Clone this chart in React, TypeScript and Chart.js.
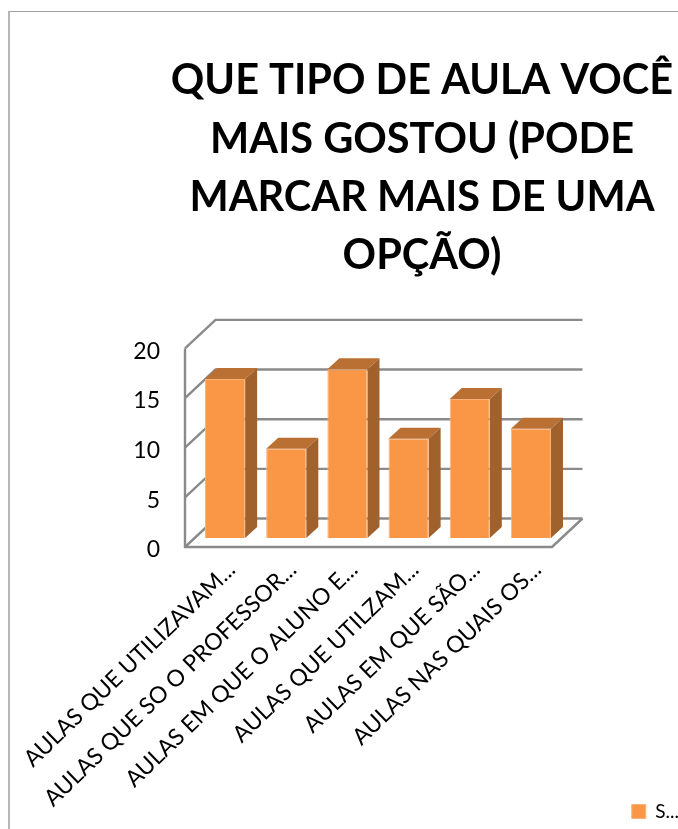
import React, { useEffect, useRef } from "react";
import { Chart, registerables } from "chart.js";

Chart.register(...registerables);

const categories = [
  "AULAS QUE UTILIZAVAM...",
  "AULAS QUE SO O PROFESSOR...",
  "AULAS EM QUE O ALUNO E...",
  "AULAS QUE UTILZAM...",
  "AULAS EM QUE SÃO...",
  "AULAS NAS QUAIS OS...",
];
const seriesValues = [16, 9, 17, 10, 14, 11];
const seriesName = "S...";
const titleLines = ["QUE TIPO DE AULA VOCÊ", "MAIS GOSTOU (PODE", "MARCAR MAIS DE UMA", "OPÇÃO)"];

const FONT = "Lato, Carlito, sans-serif";
const GRID = "#8a8a8a";
const FRONT = "#F99746";
const EDGE = "#FBB27A";
const TOP = "#BA6F33";
const SIDE = "#A0612C";
const WALL_X = 30.5;
const WALL_Y = -28.5;
const BAR_X = 9.5;
const BAR_Y = -9;
const DEPTH_X = 12;
const DEPTH_Y = -11;

const poly = (ctx: CanvasRenderingContext2D, pts: number[][], fill?: string) => {
  ctx.beginPath();
  pts.forEach((p, i) => (i ? ctx.lineTo(p[0], p[1]) : ctx.moveTo(p[0], p[1])));
  if (fill) {
    ctx.closePath();
    ctx.fillStyle = fill;
    ctx.fill();
  } else {
    ctx.stroke();
  }
};

const threeD = {
  id: "threeD",
  afterLayout(chart: any) {
    // long rotated labels run to the foot of the page, keep them out of the axis clip
    chart.scales.x.bottom = chart.height;
    // the value labels sit well left of the axis, keep them out of its label clip
    chart.scales.y.left = 100;
    const lg = chart.legend;
    lg.top += 10;
    lg.bottom += 10;
    lg.left += 1;
    lg.right += 1;
  },
  beforeDatasetsDraw(chart: any) {
    const { ctx, chartArea: a, scales } = chart;
    const y = scales.y;
    ctx.save();
    ctx.strokeStyle = GRID;
    ctx.lineWidth = 2.4;
    y.ticks.forEach((t: any) => {
      const py = y.getPixelForValue(t.value);
      poly(ctx, [[a.left, py], [a.left + WALL_X, py + WALL_Y], [a.right + WALL_X, py + WALL_Y]]);
    });
    const base = y.getPixelForValue(0);
    poly(ctx, [[a.left, y.getPixelForValue(20)], [a.left, base], [a.right, base], [a.right + WALL_X, base + WALL_Y]]);
    const meta = chart.getDatasetMeta(0);
    meta.data.forEach((b: any) => {
      const l = b.x - b.width / 2 + BAR_X;
      const r = b.x + b.width / 2 + BAR_X;
      const t = b.y + BAR_Y;
      const bt = b.base + BAR_Y;
      poly(ctx, [[l, t], [r, t], [r + DEPTH_X, t + DEPTH_Y], [l + DEPTH_X, t + DEPTH_Y]], TOP);
      poly(ctx, [[r, t], [r + DEPTH_X, t + DEPTH_Y], [r + DEPTH_X, bt + DEPTH_Y], [r, bt]], SIDE);
    });
    ctx.restore();
  },
  beforeDatasetDraw(chart: any) {
    chart.ctx.save();
    chart.ctx.translate(BAR_X, BAR_Y);
  },
  afterDatasetDraw(chart: any) {
    chart.ctx.restore();
  },
};

export default function App() {
  const ref = useRef<HTMLCanvasElement>(null);
  useEffect(() => {
    const chart = new Chart(ref.current!, {
      type: "bar",
      data: {
        labels: categories,
        datasets: [
          {
            label: seriesName,
            data: seriesValues,
            backgroundColor: FRONT,
            borderColor: EDGE,
            borderWidth: 1,
            barPercentage: 0.656,
            categoryPercentage: 1,
            clip: false,
          } as any,
        ],
      },
      options: {
        animation: false,
        responsive: false,
        layout: { padding: { left: 166, right: 0, top: 52, bottom: 8 } },
        plugins: {
          title: {
            display: true,
            text: titleLines,
            color: "#000",
            font: { family: FONT, size: 41.5, weight: "bold", lineHeight: 1.4 },
            padding: { top: 0, bottom: 64 },
          },
          legend: {
            position: "bottom",
            align: "end",
            labels: {
              color: "#000",
              boxWidth: 14,
              boxHeight: 14,
              padding: 0,
              font: { family: FONT, size: 19 },
            },
          },
          tooltip: { enabled: false },
        },
        scales: {
          x: {
            position: "bottom",
            offset: true,
            grid: { display: false },
            border: { display: false },
            ticks: {
              autoSkip: false,
              minRotation: 44,
              maxRotation: 44,
              padding: 1,
              labelOffset: 16,
              color: "#000",
              font: { family: FONT, size: 23 },
            },
            afterFit(s: any) {
              s.height = 245;
              s.paddingLeft = 0;
              s.paddingRight = 0;
            },
          },
          y: {
            min: 0,
            max: 20,
            position: "left",
            grid: { display: false, drawTicks: false },
            border: { display: false },
            ticks: {
              stepSize: 5,
              padding: 25,
              labelOffset: 3,
              color: "#000",
              font: { family: FONT, size: 23 },
            },
            afterFit(s: any) {
              s.width = 19;
            },
          },
          yR: {
            position: "right",
            grid: { display: false, drawTicks: false },
            border: { display: false },
            ticks: { display: false },
            afterFit(s: any) {
              s.width = 126;
            },
          },
        },
      } as any,
      plugins: [threeD],
    });
    return () => chart.destroy();
  }, []);
  return (
    <div style={{ position: "fixed", left: 0, top: 0, width: 678, height: 829, overflow: "hidden", background: "#fff" }}>
      <div
        style={{
          position: "absolute",
          left: 8,
          top: 11,
          right: 0,
          bottom: 0,
          borderTop: "1px solid #a0a0a0",
          borderLeft: "2px solid #b8b8b8",
        }}
      />
      <canvas ref={ref} width={678} height={829} style={{ position: "absolute", left: 0, top: 0, display: "block" }} />
    </div>
  );
}
